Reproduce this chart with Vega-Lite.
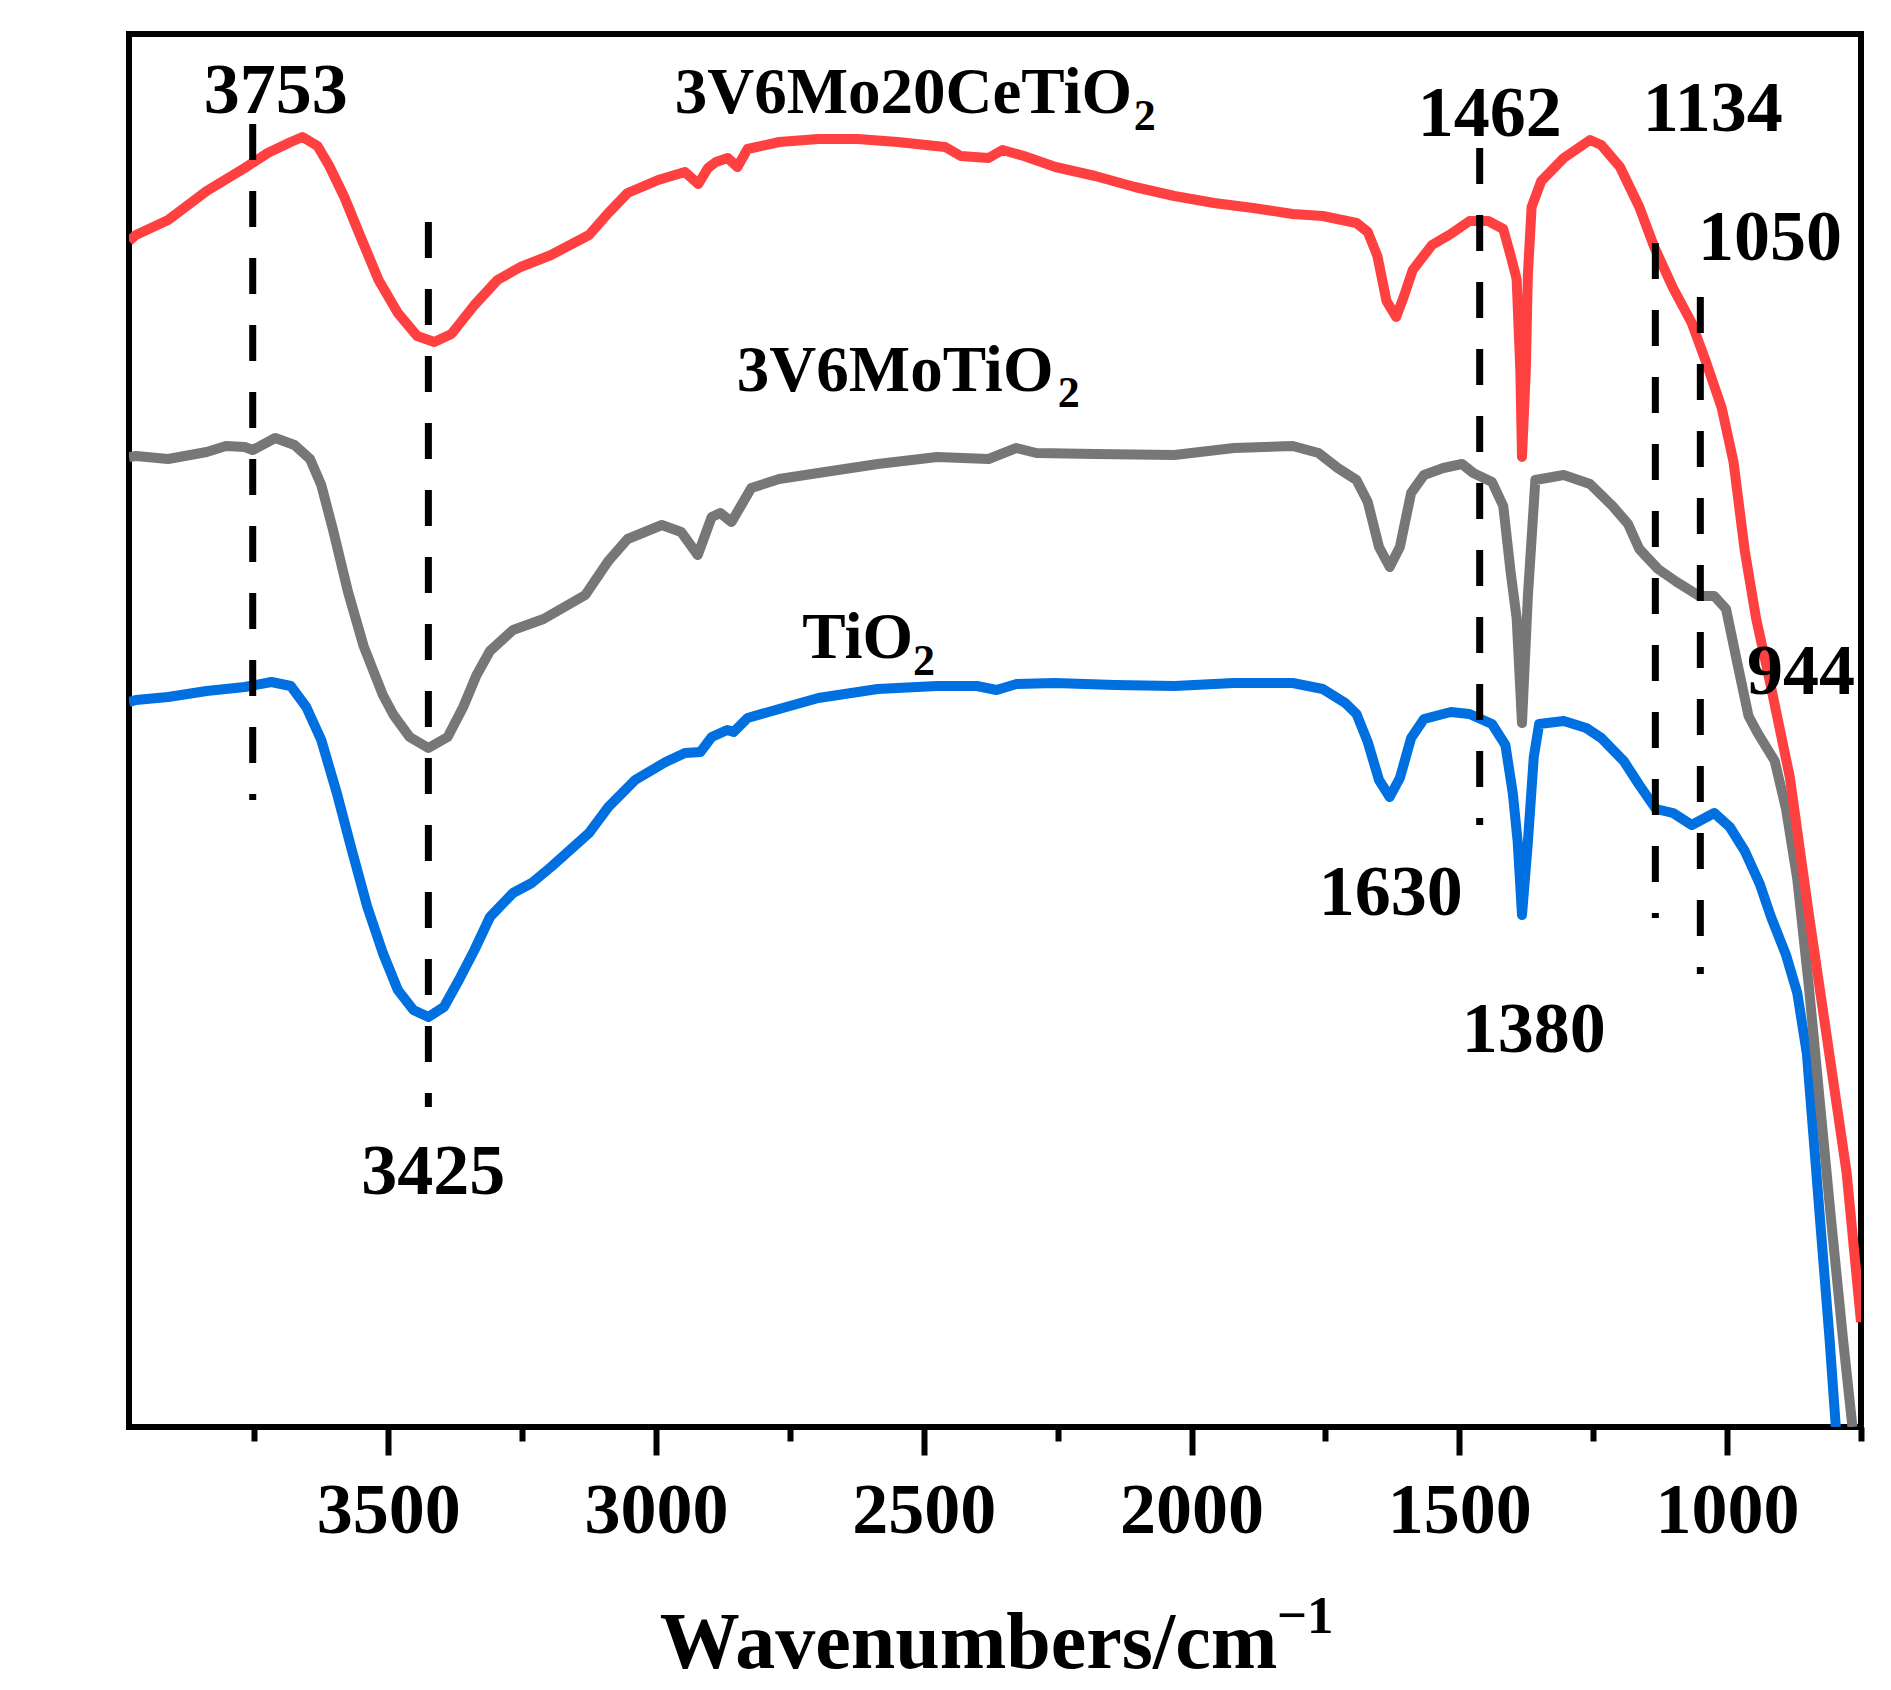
{
  "$schema": "https://vega.github.io/schema/vega-lite/v6.json",
  "width": 1732,
  "height": 1393,
  "autosize": {"type": "none"},
  "padding": {"left": 129, "top": 34, "right": 30, "bottom": 263},
  "background": "white",
  "datasets": {
    "spectra": [
      {"sample": "TiO2", "wn": 3984, "t": 725}, {"sample": "TiO2", "wn": 3971, "t": 727}, {"sample": "TiO2", "wn": 3911, "t": 730},
      {"sample": "TiO2", "wn": 3839, "t": 736}, {"sample": "TiO2", "wn": 3768, "t": 740}, {"sample": "TiO2", "wn": 3718, "t": 745},
      {"sample": "TiO2", "wn": 3682, "t": 741}, {"sample": "TiO2", "wn": 3653, "t": 720}, {"sample": "TiO2", "wn": 3625, "t": 687},
      {"sample": "TiO2", "wn": 3596, "t": 634}, {"sample": "TiO2", "wn": 3568, "t": 577}, {"sample": "TiO2", "wn": 3539, "t": 520},
      {"sample": "TiO2", "wn": 3510, "t": 474}, {"sample": "TiO2", "wn": 3482, "t": 437}, {"sample": "TiO2", "wn": 3453, "t": 417},
      {"sample": "TiO2", "wn": 3425, "t": 410}, {"sample": "TiO2", "wn": 3396, "t": 420}, {"sample": "TiO2", "wn": 3368, "t": 447},
      {"sample": "TiO2", "wn": 3339, "t": 477}, {"sample": "TiO2", "wn": 3310, "t": 510}, {"sample": "TiO2", "wn": 3267, "t": 534},
      {"sample": "TiO2", "wn": 3232, "t": 544}, {"sample": "TiO2", "wn": 3196, "t": 560}, {"sample": "TiO2", "wn": 3125, "t": 594},
      {"sample": "TiO2", "wn": 3089, "t": 620}, {"sample": "TiO2", "wn": 3039, "t": 647}, {"sample": "TiO2", "wn": 2982, "t": 665},
      {"sample": "TiO2", "wn": 2946, "t": 674}, {"sample": "TiO2", "wn": 2917, "t": 675}, {"sample": "TiO2", "wn": 2896, "t": 690},
      {"sample": "TiO2", "wn": 2867, "t": 697}, {"sample": "TiO2", "wn": 2855, "t": 695}, {"sample": "TiO2", "wn": 2829, "t": 709},
      {"sample": "TiO2", "wn": 2770, "t": 718}, {"sample": "TiO2", "wn": 2697, "t": 729}, {"sample": "TiO2", "wn": 2586, "t": 738},
      {"sample": "TiO2", "wn": 2475, "t": 741}, {"sample": "TiO2", "wn": 2401, "t": 741}, {"sample": "TiO2", "wn": 2364, "t": 737},
      {"sample": "TiO2", "wn": 2327, "t": 743}, {"sample": "TiO2", "wn": 2254, "t": 744}, {"sample": "TiO2", "wn": 2143, "t": 742},
      {"sample": "TiO2", "wn": 2032, "t": 741}, {"sample": "TiO2", "wn": 1921, "t": 744}, {"sample": "TiO2", "wn": 1811, "t": 744},
      {"sample": "TiO2", "wn": 1755, "t": 738}, {"sample": "TiO2", "wn": 1713, "t": 724}, {"sample": "TiO2", "wn": 1692, "t": 713},
      {"sample": "TiO2", "wn": 1671, "t": 685}, {"sample": "TiO2", "wn": 1650, "t": 647}, {"sample": "TiO2", "wn": 1630, "t": 630},
      {"sample": "TiO2", "wn": 1611, "t": 649}, {"sample": "TiO2", "wn": 1590, "t": 689}, {"sample": "TiO2", "wn": 1566, "t": 708},
      {"sample": "TiO2", "wn": 1516, "t": 715}, {"sample": "TiO2", "wn": 1481, "t": 713}, {"sample": "TiO2", "wn": 1439, "t": 703},
      {"sample": "TiO2", "wn": 1414, "t": 682}, {"sample": "TiO2", "wn": 1400, "t": 633}, {"sample": "TiO2", "wn": 1391, "t": 585},
      {"sample": "TiO2", "wn": 1383, "t": 512}, {"sample": "TiO2", "wn": 1372, "t": 585}, {"sample": "TiO2", "wn": 1361, "t": 670},
      {"sample": "TiO2", "wn": 1351, "t": 703}, {"sample": "TiO2", "wn": 1305, "t": 706}, {"sample": "TiO2", "wn": 1263, "t": 699},
      {"sample": "TiO2", "wn": 1235, "t": 689}, {"sample": "TiO2", "wn": 1193, "t": 666}, {"sample": "TiO2", "wn": 1164, "t": 642},
      {"sample": "TiO2", "wn": 1133, "t": 618}, {"sample": "TiO2", "wn": 1101, "t": 614}, {"sample": "TiO2", "wn": 1066, "t": 602},
      {"sample": "TiO2", "wn": 1024, "t": 614}, {"sample": "TiO2", "wn": 995, "t": 600}, {"sample": "TiO2", "wn": 967, "t": 576},
      {"sample": "TiO2", "wn": 939, "t": 543}, {"sample": "TiO2", "wn": 918, "t": 510}, {"sample": "TiO2", "wn": 890, "t": 472},
      {"sample": "TiO2", "wn": 869, "t": 434}, {"sample": "TiO2", "wn": 851, "t": 373}, {"sample": "TiO2", "wn": 837, "t": 279},
      {"sample": "TiO2", "wn": 823, "t": 184}, {"sample": "TiO2", "wn": 809, "t": 90}, {"sample": "TiO2", "wn": 797, "t": 0},

      {"sample": "3V6MoTiO2", "wn": 3984, "t": 970}, {"sample": "3V6MoTiO2", "wn": 3971, "t": 971}, {"sample": "3V6MoTiO2", "wn": 3911, "t": 968},
      {"sample": "3V6MoTiO2", "wn": 3839, "t": 975}, {"sample": "3V6MoTiO2", "wn": 3803, "t": 981}, {"sample": "3V6MoTiO2", "wn": 3768, "t": 980},
      {"sample": "3V6MoTiO2", "wn": 3753, "t": 977}, {"sample": "3V6MoTiO2", "wn": 3711, "t": 989}, {"sample": "3V6MoTiO2", "wn": 3675, "t": 982},
      {"sample": "3V6MoTiO2", "wn": 3646, "t": 968}, {"sample": "3V6MoTiO2", "wn": 3625, "t": 942}, {"sample": "3V6MoTiO2", "wn": 3603, "t": 897},
      {"sample": "3V6MoTiO2", "wn": 3575, "t": 835}, {"sample": "3V6MoTiO2", "wn": 3546, "t": 781}, {"sample": "3V6MoTiO2", "wn": 3510, "t": 732},
      {"sample": "3V6MoTiO2", "wn": 3490, "t": 712}, {"sample": "3V6MoTiO2", "wn": 3460, "t": 690}, {"sample": "3V6MoTiO2", "wn": 3425, "t": 679},
      {"sample": "3V6MoTiO2", "wn": 3389, "t": 690}, {"sample": "3V6MoTiO2", "wn": 3360, "t": 720}, {"sample": "3V6MoTiO2", "wn": 3335, "t": 752},
      {"sample": "3V6MoTiO2", "wn": 3310, "t": 776}, {"sample": "3V6MoTiO2", "wn": 3267, "t": 797}, {"sample": "3V6MoTiO2", "wn": 3210, "t": 808},
      {"sample": "3V6MoTiO2", "wn": 3132, "t": 832}, {"sample": "3V6MoTiO2", "wn": 3089, "t": 866}, {"sample": "3V6MoTiO2", "wn": 3053, "t": 888},
      {"sample": "3V6MoTiO2", "wn": 2989, "t": 902}, {"sample": "3V6MoTiO2", "wn": 2953, "t": 895}, {"sample": "3V6MoTiO2", "wn": 2922, "t": 872},
      {"sample": "3V6MoTiO2", "wn": 2896, "t": 910}, {"sample": "3V6MoTiO2", "wn": 2880, "t": 914}, {"sample": "3V6MoTiO2", "wn": 2859, "t": 905},
      {"sample": "3V6MoTiO2", "wn": 2822, "t": 939}, {"sample": "3V6MoTiO2", "wn": 2770, "t": 948}, {"sample": "3V6MoTiO2", "wn": 2697, "t": 954},
      {"sample": "3V6MoTiO2", "wn": 2586, "t": 963}, {"sample": "3V6MoTiO2", "wn": 2475, "t": 970}, {"sample": "3V6MoTiO2", "wn": 2379, "t": 968},
      {"sample": "3V6MoTiO2", "wn": 2327, "t": 979}, {"sample": "3V6MoTiO2", "wn": 2290, "t": 974}, {"sample": "3V6MoTiO2", "wn": 2180, "t": 973},
      {"sample": "3V6MoTiO2", "wn": 2032, "t": 972}, {"sample": "3V6MoTiO2", "wn": 1921, "t": 979}, {"sample": "3V6MoTiO2", "wn": 1811, "t": 981},
      {"sample": "3V6MoTiO2", "wn": 1763, "t": 974}, {"sample": "3V6MoTiO2", "wn": 1727, "t": 959}, {"sample": "3V6MoTiO2", "wn": 1692, "t": 947},
      {"sample": "3V6MoTiO2", "wn": 1671, "t": 925}, {"sample": "3V6MoTiO2", "wn": 1650, "t": 880}, {"sample": "3V6MoTiO2", "wn": 1630, "t": 860},
      {"sample": "3V6MoTiO2", "wn": 1611, "t": 880}, {"sample": "3V6MoTiO2", "wn": 1590, "t": 934}, {"sample": "3V6MoTiO2", "wn": 1566, "t": 952},
      {"sample": "3V6MoTiO2", "wn": 1530, "t": 959}, {"sample": "3V6MoTiO2", "wn": 1495, "t": 963}, {"sample": "3V6MoTiO2", "wn": 1474, "t": 954},
      {"sample": "3V6MoTiO2", "wn": 1439, "t": 945}, {"sample": "3V6MoTiO2", "wn": 1418, "t": 921}, {"sample": "3V6MoTiO2", "wn": 1404, "t": 854},
      {"sample": "3V6MoTiO2", "wn": 1393, "t": 809}, {"sample": "3V6MoTiO2", "wn": 1383, "t": 704}, {"sample": "3V6MoTiO2", "wn": 1372, "t": 831},
      {"sample": "3V6MoTiO2", "wn": 1358, "t": 947}, {"sample": "3V6MoTiO2", "wn": 1305, "t": 952}, {"sample": "3V6MoTiO2", "wn": 1256, "t": 943},
      {"sample": "3V6MoTiO2", "wn": 1214, "t": 921}, {"sample": "3V6MoTiO2", "wn": 1185, "t": 903}, {"sample": "3V6MoTiO2", "wn": 1164, "t": 878},
      {"sample": "3V6MoTiO2", "wn": 1129, "t": 858}, {"sample": "3V6MoTiO2", "wn": 1094, "t": 845}, {"sample": "3V6MoTiO2", "wn": 1052, "t": 831},
      {"sample": "3V6MoTiO2", "wn": 1024, "t": 831}, {"sample": "3V6MoTiO2", "wn": 1002, "t": 818}, {"sample": "3V6MoTiO2", "wn": 981, "t": 764},
      {"sample": "3V6MoTiO2", "wn": 960, "t": 711}, {"sample": "3V6MoTiO2", "wn": 943, "t": 694}, {"sample": "3V6MoTiO2", "wn": 911, "t": 666},
      {"sample": "3V6MoTiO2", "wn": 890, "t": 618}, {"sample": "3V6MoTiO2", "wn": 869, "t": 548}, {"sample": "3V6MoTiO2", "wn": 848, "t": 444},
      {"sample": "3V6MoTiO2", "wn": 827, "t": 326}, {"sample": "3V6MoTiO2", "wn": 806, "t": 208}, {"sample": "3V6MoTiO2", "wn": 784, "t": 90},
      {"sample": "3V6MoTiO2", "wn": 766, "t": 0},

      {"sample": "3V6Mo20CeTiO2", "wn": 3984, "t": 1186}, {"sample": "3V6Mo20CeTiO2", "wn": 3971, "t": 1192}, {"sample": "3V6Mo20CeTiO2", "wn": 3911, "t": 1207},
      {"sample": "3V6Mo20CeTiO2", "wn": 3839, "t": 1236}, {"sample": "3V6Mo20CeTiO2", "wn": 3768, "t": 1259}, {"sample": "3V6Mo20CeTiO2", "wn": 3725, "t": 1274},
      {"sample": "3V6Mo20CeTiO2", "wn": 3682, "t": 1285}, {"sample": "3V6Mo20CeTiO2", "wn": 3660, "t": 1290}, {"sample": "3V6Mo20CeTiO2", "wn": 3632, "t": 1281},
      {"sample": "3V6Mo20CeTiO2", "wn": 3610, "t": 1261}, {"sample": "3V6Mo20CeTiO2", "wn": 3582, "t": 1230}, {"sample": "3V6Mo20CeTiO2", "wn": 3553, "t": 1192},
      {"sample": "3V6Mo20CeTiO2", "wn": 3518, "t": 1147}, {"sample": "3V6Mo20CeTiO2", "wn": 3482, "t": 1114}, {"sample": "3V6Mo20CeTiO2", "wn": 3446, "t": 1091},
      {"sample": "3V6Mo20CeTiO2", "wn": 3414, "t": 1085}, {"sample": "3V6Mo20CeTiO2", "wn": 3382, "t": 1093}, {"sample": "3V6Mo20CeTiO2", "wn": 3339, "t": 1122},
      {"sample": "3V6Mo20CeTiO2", "wn": 3296, "t": 1147}, {"sample": "3V6Mo20CeTiO2", "wn": 3253, "t": 1160}, {"sample": "3V6Mo20CeTiO2", "wn": 3196, "t": 1172},
      {"sample": "3V6Mo20CeTiO2", "wn": 3125, "t": 1192}, {"sample": "3V6Mo20CeTiO2", "wn": 3089, "t": 1214}, {"sample": "3V6Mo20CeTiO2", "wn": 3053, "t": 1234},
      {"sample": "3V6Mo20CeTiO2", "wn": 2996, "t": 1247}, {"sample": "3V6Mo20CeTiO2", "wn": 2946, "t": 1255}, {"sample": "3V6Mo20CeTiO2", "wn": 2921, "t": 1243},
      {"sample": "3V6Mo20CeTiO2", "wn": 2903, "t": 1259}, {"sample": "3V6Mo20CeTiO2", "wn": 2888, "t": 1265}, {"sample": "3V6Mo20CeTiO2", "wn": 2866, "t": 1269},
      {"sample": "3V6Mo20CeTiO2", "wn": 2848, "t": 1260}, {"sample": "3V6Mo20CeTiO2", "wn": 2829, "t": 1278}, {"sample": "3V6Mo20CeTiO2", "wn": 2770, "t": 1285},
      {"sample": "3V6Mo20CeTiO2", "wn": 2697, "t": 1288}, {"sample": "3V6Mo20CeTiO2", "wn": 2623, "t": 1288}, {"sample": "3V6Mo20CeTiO2", "wn": 2549, "t": 1285},
      {"sample": "3V6Mo20CeTiO2", "wn": 2460, "t": 1280}, {"sample": "3V6Mo20CeTiO2", "wn": 2431, "t": 1271}, {"sample": "3V6Mo20CeTiO2", "wn": 2379, "t": 1269},
      {"sample": "3V6Mo20CeTiO2", "wn": 2353, "t": 1277}, {"sample": "3V6Mo20CeTiO2", "wn": 2313, "t": 1271}, {"sample": "3V6Mo20CeTiO2", "wn": 2254, "t": 1260},
      {"sample": "3V6Mo20CeTiO2", "wn": 2180, "t": 1251}, {"sample": "3V6Mo20CeTiO2", "wn": 2106, "t": 1240}, {"sample": "3V6Mo20CeTiO2", "wn": 2032, "t": 1231},
      {"sample": "3V6Mo20CeTiO2", "wn": 1958, "t": 1224}, {"sample": "3V6Mo20CeTiO2", "wn": 1885, "t": 1219}, {"sample": "3V6Mo20CeTiO2", "wn": 1811, "t": 1213},
      {"sample": "3V6Mo20CeTiO2", "wn": 1755, "t": 1211}, {"sample": "3V6Mo20CeTiO2", "wn": 1692, "t": 1204}, {"sample": "3V6Mo20CeTiO2", "wn": 1671, "t": 1195},
      {"sample": "3V6Mo20CeTiO2", "wn": 1653, "t": 1171}, {"sample": "3V6Mo20CeTiO2", "wn": 1636, "t": 1126}, {"sample": "3V6Mo20CeTiO2", "wn": 1618, "t": 1110},
      {"sample": "3V6Mo20CeTiO2", "wn": 1604, "t": 1130}, {"sample": "3V6Mo20CeTiO2", "wn": 1587, "t": 1157}, {"sample": "3V6Mo20CeTiO2", "wn": 1551, "t": 1182},
      {"sample": "3V6Mo20CeTiO2", "wn": 1516, "t": 1193}, {"sample": "3V6Mo20CeTiO2", "wn": 1481, "t": 1206}, {"sample": "3V6Mo20CeTiO2", "wn": 1446, "t": 1206},
      {"sample": "3V6Mo20CeTiO2", "wn": 1418, "t": 1198}, {"sample": "3V6Mo20CeTiO2", "wn": 1404, "t": 1171}, {"sample": "3V6Mo20CeTiO2", "wn": 1393, "t": 1148},
      {"sample": "3V6Mo20CeTiO2", "wn": 1386, "t": 1055}, {"sample": "3V6Mo20CeTiO2", "wn": 1383, "t": 970}, {"sample": "3V6Mo20CeTiO2", "wn": 1376, "t": 1055},
      {"sample": "3V6Mo20CeTiO2", "wn": 1372, "t": 1153}, {"sample": "3V6Mo20CeTiO2", "wn": 1365, "t": 1220}, {"sample": "3V6Mo20CeTiO2", "wn": 1347, "t": 1246},
      {"sample": "3V6Mo20CeTiO2", "wn": 1305, "t": 1269}, {"sample": "3V6Mo20CeTiO2", "wn": 1256, "t": 1287}, {"sample": "3V6Mo20CeTiO2", "wn": 1235, "t": 1282},
      {"sample": "3V6Mo20CeTiO2", "wn": 1200, "t": 1260}, {"sample": "3V6Mo20CeTiO2", "wn": 1164, "t": 1220}, {"sample": "3V6Mo20CeTiO2", "wn": 1136, "t": 1180},
      {"sample": "3V6Mo20CeTiO2", "wn": 1101, "t": 1139}, {"sample": "3V6Mo20CeTiO2", "wn": 1066, "t": 1104}, {"sample": "3V6Mo20CeTiO2", "wn": 1038, "t": 1063},
      {"sample": "3V6Mo20CeTiO2", "wn": 1010, "t": 1019}, {"sample": "3V6Mo20CeTiO2", "wn": 988, "t": 965}, {"sample": "3V6Mo20CeTiO2", "wn": 967, "t": 876},
      {"sample": "3V6Mo20CeTiO2", "wn": 946, "t": 809}, {"sample": "3V6Mo20CeTiO2", "wn": 918, "t": 740}, {"sample": "3V6Mo20CeTiO2", "wn": 883, "t": 650},
      {"sample": "3V6Mo20CeTiO2", "wn": 848, "t": 515}, {"sample": "3V6Mo20CeTiO2", "wn": 813, "t": 387}, {"sample": "3V6Mo20CeTiO2", "wn": 777, "t": 255},
      {"sample": "3V6Mo20CeTiO2", "wn": 750, "t": 105}
    ],
    "guides": [
      {"wn": 3753, "top": 1303, "bottom": 627},
      {"wn": 3425, "top": 1205, "bottom": 320},
      {"wn": 1462, "top": 1279, "bottom": 602},
      {"wn": 1134, "top": 1184, "bottom": 509},
      {"wn": 1050, "top": 1130, "bottom": 453}
    ],
    "peakLabels": [
      {"label": "3753", "wn": 3710, "t": 1314},
      {"label": "3425", "wn": 3416, "t": 233},
      {"label": "1630", "wn": 1628, "t": 512},
      {"label": "1462", "wn": 1443, "t": 1291},
      {"label": "1380", "wn": 1361, "t": 375},
      {"label": "1134", "wn": 1027, "t": 1296},
      {"label": "1050", "wn": 920, "t": 1167},
      {"label": "944", "wn": 862, "t": 733}
    ],
    "sampleLabels": [
      {"label": "3V6Mo20CeTiO", "wn": 2965, "t": 1314},
      {"label": "3V6MoTiO", "wn": 2849, "t": 1036},
      {"label": "TiO", "wn": 2727, "t": 769}
    ],
    "subscripts": [
      {"label": "2", "wn": 2108, "t": 1297},
      {"label": "2", "wn": 2250, "t": 1020},
      {"label": "2", "wn": 2520, "t": 752}
    ],
    "unitExponent": [
      {"label": "−1", "wn": 1841, "t": -206}
    ]
  },
  "layer": [
    {
      "data": {"name": "spectra"},
      "mark": {"type": "line", "strokeWidth": 10, "strokeJoin": "round", "clip": true},
      "encoding": {
        "x": {
          "field": "wn",
          "type": "quantitative",
          "scale": {"domain": [750, 3984], "reverse": true, "nice": false, "zero": false},
          "axis": {
            "orient": "bottom",
            "values": [3500, 3000, 2500, 2000, 1500, 1000],
            "format": "d",
            "tickSize": 28,
            "tickWidth": 6,
            "tickColor": "black",
            "domain": false,
            "grid": false,
            "labelFont": "Liberation Serif",
            "labelFontWeight": "bold",
            "labelFontSize": 72,
            "labelColor": "black",
            "labelBaseline": "alphabetic",
            "labelPadding": 77,
            "labelFlush": false,
            "labelOverlap": false,
            "title": "Wavenumbers/cm",
            "titleFont": "Liberation Serif",
            "titleFontWeight": "bold",
            "titleFontSize": 80,
            "titleColor": "black",
            "titleBaseline": "alphabetic",
            "titleAlign": "center",
            "titleX": 839,
            "titleY": 240
          }
        },
        "y": {
          "field": "t",
          "type": "quantitative",
          "scale": {"domain": [0, 1393], "nice": false, "zero": false},
          "axis": {
            "title": "Transmittance",
            "ticks": false,
            "labels": false,
            "domain": false,
            "grid": false,
            "titleFont": "Liberation Serif",
            "titleFontWeight": "bold",
            "titleFontSize": 80,
            "titleColor": "black",
            "titleAngle": 270,
            "titleBaseline": "alphabetic",
            "titleAlign": "center",
            "titleX": -58,
            "titleY": 696
          }
        },
        "color": {
          "field": "sample",
          "type": "nominal",
          "scale": {"domain": ["TiO2", "3V6MoTiO2", "3V6Mo20CeTiO2"], "range": ["#0070e0", "#777777", "#ff4040"]},
          "legend": null
        },
        "order": {"field": "wn", "type": "quantitative", "sort": "descending"}
      }
    },
    {
      "data": {"name": "guides"},
      "mark": {"type": "rule", "strokeWidth": 7, "strokeDash": [36, 31], "color": "black"},
      "encoding": {
        "x": {
          "field": "wn",
          "type": "quantitative",
          "scale": {"domain": [750, 3984], "reverse": true, "nice": false, "zero": false},
          "axis": {
            "orient": "bottom",
            "values": [3750, 3250, 2750, 2250, 1750, 1250, 750],
            "tickSize": 14,
            "tickWidth": 6,
            "tickColor": "black",
            "labels": false,
            "domain": false,
            "grid": false,
            "title": null
          }
        },
        "y": {"field": "top", "type": "quantitative", "scale": {"domain": [0, 1393], "nice": false, "zero": false}, "axis": null},
        "y2": {"field": "bottom"}
      }
    },
    {
      "data": {"name": "peakLabels"},
      "mark": {"type": "text", "font": "Liberation Serif", "fontWeight": "bold", "fontSize": 72, "align": "center", "baseline": "alphabetic", "color": "black"},
      "encoding": {
        "x": {"field": "wn", "type": "quantitative", "axis": null},
        "y": {"field": "t", "type": "quantitative", "axis": null},
        "text": {"field": "label"}
      }
    },
    {
      "data": {"name": "sampleLabels"},
      "mark": {"type": "text", "font": "Liberation Serif", "fontWeight": "bold", "fontSize": 65, "align": "left", "baseline": "alphabetic", "color": "black"},
      "encoding": {
        "x": {"field": "wn", "type": "quantitative", "axis": null},
        "y": {"field": "t", "type": "quantitative", "axis": null},
        "text": {"field": "label"}
      }
    },
    {
      "data": {"name": "subscripts"},
      "mark": {"type": "text", "font": "Liberation Serif", "fontWeight": "bold", "fontSize": 44, "align": "left", "baseline": "alphabetic", "color": "black"},
      "encoding": {
        "x": {"field": "wn", "type": "quantitative", "axis": null},
        "y": {"field": "t", "type": "quantitative", "axis": null},
        "text": {"field": "label"}
      }
    },
    {
      "data": {"name": "unitExponent"},
      "mark": {"type": "text", "font": "Liberation Serif", "fontWeight": "bold", "fontSize": 53, "align": "left", "baseline": "alphabetic", "color": "black"},
      "encoding": {
        "x": {"field": "wn", "type": "quantitative", "axis": null},
        "y": {"field": "t", "type": "quantitative", "axis": null},
        "text": {"field": "label"}
      }
    }
  ],
  "resolve": {"axis": {"x": "independent"}},
  "config": {
    "view": {"stroke": "black", "strokeWidth": 6},
    "axis": {"grid": false}
  }
}
